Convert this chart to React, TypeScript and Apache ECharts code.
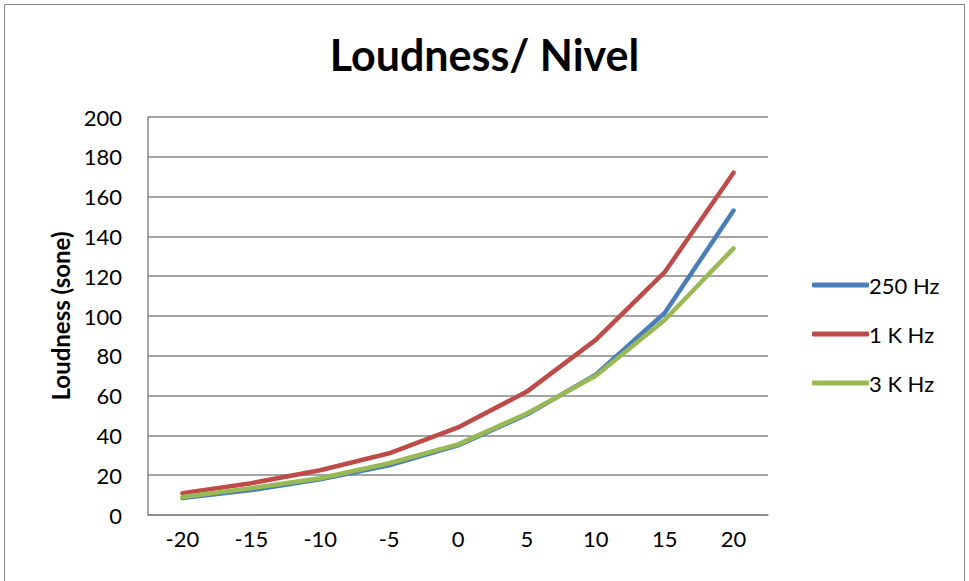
import React, { useEffect, useRef } from "react";
import * as echarts from "echarts";

const categories = ["-20", "-15", "-10", "-5", "0", "5", "10", "15", "20"];
const s250 = [8.5, 12.5, 18, 25, 35, 50.5, 70.5, 101.5, 153];
const s1k = [11, 16, 22.5, 31, 44, 62, 88, 122, 172];
const s3k = [9, 13.5, 18.5, 26, 35.5, 51, 70, 98, 134];
const seriesNames = ["250 Hz", "1 K Hz", "3 K Hz"];
const colors = ["#4A7EBB", "#BE4B48", "#98B954"];

const FONT = "Lato, 'Open Sans', sans-serif";

export default function App() {
  const ref = useRef<HTMLDivElement>(null);
  useEffect(() => {
    if (!ref.current) return;
    const chart = echarts.init(ref.current, null, { renderer: "svg" });
    const data = [s250, s1k, s3k];
    chart.setOption({
      animation: false,
      backgroundColor: "#ffffff",
      title: {
        text: "Loudness/ Nivel",
        left: "center",
        top: 28,
        textStyle: { fontFamily: FONT, fontSize: 43, fontWeight: "bold", color: "#000" },
      },
      graphic: [
        {
          type: "rect",
          shape: { x: 4.5, y: 4.5, width: 960, height: 590 },
          style: { fill: "none", stroke: "#888888", lineWidth: 1 },
          silent: true,
        },
      ],
      legend: {
        orient: "vertical",
        left: 807,
        top: 269,
        itemGap: 27,
        itemWidth: 57,
        itemHeight: 5,
        icon: "roundRect",
        data: seriesNames,
        textStyle: { fontFamily: FONT, fontSize: 22, color: "#000", padding: [0, 0, 0, -5] },
      },
      grid: { left: 148, right: 201, top: 117, bottom: 66, containLabel: false },
      xAxis: {
        type: "category",
        data: categories,
        boundaryGap: true,
        axisLine: { lineStyle: { color: "#868686", width: 1.5 } },
        axisTick: { show: false },
        axisLabel: { fontFamily: FONT, fontSize: 22, color: "#000", margin: 12 },
      },
      yAxis: {
        type: "value",
        min: 0,
        max: 200,
        interval: 20,
        name: "Loudness (sone)",
        nameLocation: "middle",
        nameGap: 73,
        nameTextStyle: { fontFamily: FONT, fontSize: 24, fontWeight: "bold", color: "#000" },
        axisLine: { show: true, lineStyle: { color: "#868686", width: 1.5 } },
        axisTick: { show: false },
        splitLine: { lineStyle: { color: "#868686", width: 1.5 } },
        axisLabel: { fontFamily: FONT, fontSize: 22, color: "#000", margin: 26 },
      },
      series: seriesNames.map((n, i) => ({
        name: n,
        type: "line",
        data: data[i],
        showSymbol: false,
        symbol: "none",
        lineStyle: { color: colors[i], width: 4.5, cap: "round", join: "round" },
        itemStyle: { color: colors[i] },
        z: i === 1 ? 3 : i === 2 ? 4 : 2,
      })),
    });
    return () => chart.dispose();
  }, []);
  return (
    <div
      ref={ref}
      style={{ position: "absolute", left: 0, top: 0, width: 969, height: 581 }}
    />
  );
}
